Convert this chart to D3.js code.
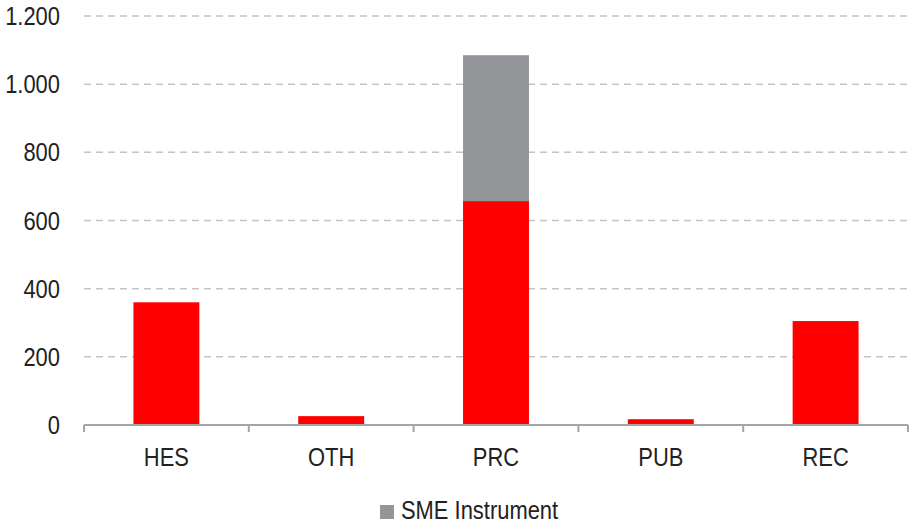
<!DOCTYPE html>
<html>
<head>
<meta charset="utf-8">
<script src="https://cdn.jsdelivr.net/npm/d3@7"></script>
<style>
  html, body { margin: 0; padding: 0; background: #fff; }
  text { font-family: "Liberation Sans", Arial, sans-serif; fill: #222; }
</style>
</head>
<body>
<svg id="chart" width="910" height="524"></svg>
<script>
// Participation by organisation type
const categories = ["HES", "OTH", "PRC", "PUB", "REC"];
const baseValues = [360, 26, 657, 17, 305];     // red series
const smeValues  = [0, 0, 428, 0, 0];           // SME Instrument
const yTicks = [0, 200, 400, 600, 800, 1000, 1200];
const legendLabel = "SME Instrument";

const svg = d3.select("#chart");
const margin = { left: 84, right: 2, top: 16, bottom: 99 };
const W = 910, H = 524;
const FS = 25.5, SX = 0.86;   // condensed label face
const place = (px, py) => `translate(${px},${py}) scale(${SX},1)`;

const x = d3.scaleBand().domain(categories).range([margin.left, W - margin.right]).paddingInner(0.6).paddingOuter(0.3);
const xEdge = d3.scaleBand().domain(categories).range([margin.left, W - margin.right]);
const y = d3.scaleLinear().domain([0, 1200]).range([H - margin.bottom, margin.top]);

const fmt = d => d3.format(",")(d).replace(/,/g, ".");

// gridlines
svg.append("g").selectAll("line").data(yTicks.filter(d => d > 0)).join("line")
  .attr("x1", margin.left).attr("x2", W - margin.right)
  .attr("y1", d => y(d)).attr("y2", d => y(d))
  .attr("stroke", "#c4c4c4").attr("stroke-width", 1.5).attr("stroke-dasharray", "7,5");

// y labels
svg.append("g").selectAll("text").data(yTicks).join("text")
  .attr("transform", d => place(60, y(d) + 9))
  .attr("text-anchor", "end").attr("font-size", FS)
  .text(fmt);

// stacked bars
const stack = categories.map((c, i) => ({ c, base: baseValues[i], sme: smeValues[i] }));
svg.append("g").selectAll("rect").data(stack).join("rect")
  .attr("x", d => x(d.c)).attr("width", x.bandwidth())
  .attr("y", d => y(d.base)).attr("height", d => y(0) - y(d.base))
  .attr("fill", "#ff0000");
svg.append("g").selectAll("rect").data(stack.filter(d => d.sme > 0)).join("rect")
  .attr("x", d => x(d.c)).attr("width", x.bandwidth())
  .attr("y", d => y(d.base + d.sme)).attr("height", d => y(d.base) - y(d.base + d.sme))
  .attr("fill", "#939598");

// x axis line with boundary ticks
const axisG = svg.append("g");
axisG.append("line").attr("x1", margin.left).attr("x2", W - margin.right)
  .attr("y1", y(0)).attr("y2", y(0)).attr("stroke", "#a6a6a8").attr("stroke-width", 2);
const edges = categories.map(c => xEdge(c)).concat([W - margin.right]);
axisG.selectAll("line.tk").data(edges).join("line").attr("class", "tk")
  .attr("x1", d => d).attr("x2", d => d)
  .attr("y1", y(0)).attr("y2", y(0) + 7)
  .attr("stroke", "#a6a6a8").attr("stroke-width", 2);

// category labels
svg.append("g").selectAll("text").data(categories).join("text")
  .attr("transform", d => place(x(d) + x.bandwidth() / 2, 466))
  .attr("text-anchor", "middle").attr("font-size", FS)
  .text(d => d);

// legend
const lg = svg.append("g");
lg.append("rect").attr("x", 380).attr("y", 505).attr("width", 14).attr("height", 14).attr("fill", "#939598");
lg.append("text").attr("transform", place(401, 519)).attr("font-size", FS).text(legendLabel);
</script>
</body>
</html>
